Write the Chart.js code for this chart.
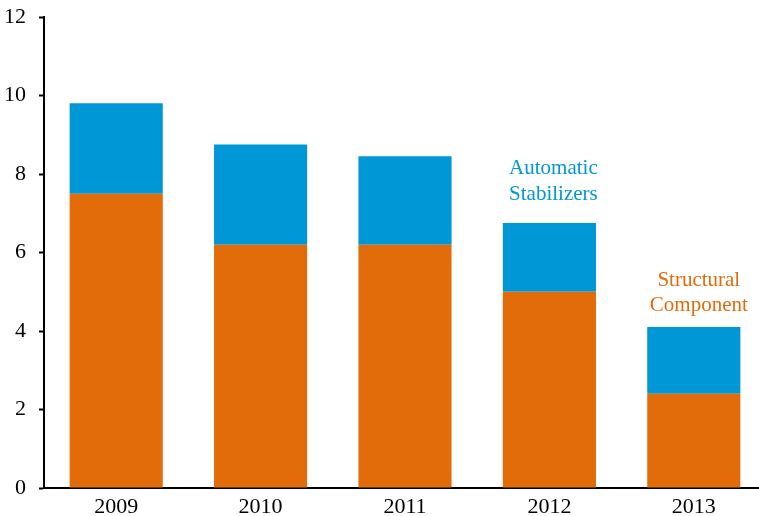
<!DOCTYPE html>
<html>
<head>
<meta charset="utf-8">
<script src="https://cdn.jsdelivr.net/npm/chart.js@4/dist/chart.umd.min.js"></script>
<style>
  html, body { margin: 0; padding: 0; background: #fff; overflow: hidden; }
  #wrap { width: 766px; height: 516px; position: relative; }
</style>
</head>
<body>
<div id="wrap"><canvas id="c"></canvas></div>
<script>
const categories = ['2009', '2010', '2011', '2012', '2013'];
const structural = [7.5, 6.2, 6.2, 5.0, 2.4];
const automatic = [2.3, 2.55, 2.25, 1.75, 1.7];
const yTicks = [0, 2, 4, 6, 8, 10, 12];

const BLUE = '#0097D7';
const ORANGE = '#E36C0A';
const FONT = '"Liberation Serif", "Times New Roman", serif';

const annotations = [
  { lines: ['Automatic', 'Stabilizers'], cat: 3, dx: 4, y: 8.0, color: BLUE },
  { lines: ['Structural', 'Component'], cat: 4, dx: 5, y: 5.15, color: ORANGE }
];

const annotPlugin = {
  id: 'annot',
  afterDatasetsDraw(chart) {
    const ctx = chart.ctx;
    const xs = chart.scales.x, ys = chart.scales.y;
    ctx.save();
    ctx.font = '21px ' + FONT;
    ctx.textAlign = 'center';
    ctx.textBaseline = 'alphabetic';
    annotations.forEach(a => {
      const x = xs.getPixelForValue(a.cat) + a.dx;
      const y = ys.getPixelForValue(a.y);
      ctx.fillStyle = a.color;
      a.lines.forEach((t, i) => ctx.fillText(t, x, y + i * 25.5));
    });
    ctx.restore();
  }
};

new Chart(document.getElementById('c'), {
  type: 'bar',
  data: {
    labels: categories,
    datasets: [
      { label: 'Structural Component', data: structural, backgroundColor: ORANGE, borderWidth: 0 },
      { label: 'Automatic Stabilizers', data: automatic, backgroundColor: BLUE, borderWidth: 0 }
    ]
  },
  options: {
    responsive: true,
    maintainAspectRatio: false,
    animation: false,
    layout: { padding: { top: 17, left: 0, right: 0, bottom: 0 } },
    plugins: { legend: { display: false }, tooltip: { enabled: false } },
    datasets: { bar: { barPercentage: 1, categoryPercentage: 0.645 } },
    scales: {
      x: {
        stacked: true,
        grid: { display: false, drawTicks: false },
        border: { display: true, color: '#000', width: 2 },
        ticks: { color: '#000', font: { family: FONT, size: 22 }, padding: 6 },
        afterFit(s) { s.height = 28; s.paddingLeft = 0; s.paddingRight = 0; }
      },
      y: {
        stacked: true,
        min: 0, max: 12,
        afterBuildTicks(s) { s.ticks = yTicks.map(v => ({ value: v })); },
        grid: { drawOnChartArea: false, drawTicks: true, tickLength: 5, color: '#000', tickWidth: 2 },
        border: { display: true, color: '#000', width: 2 },
        ticks: { color: '#000', font: { family: FONT, size: 22 }, padding: 13 },
        afterFit(s) { s.width = 44; s.paddingTop = 0; s.paddingBottom = 0; }
      }
    }
  },
  plugins: [annotPlugin]
});
</script>
</body>
</html>
